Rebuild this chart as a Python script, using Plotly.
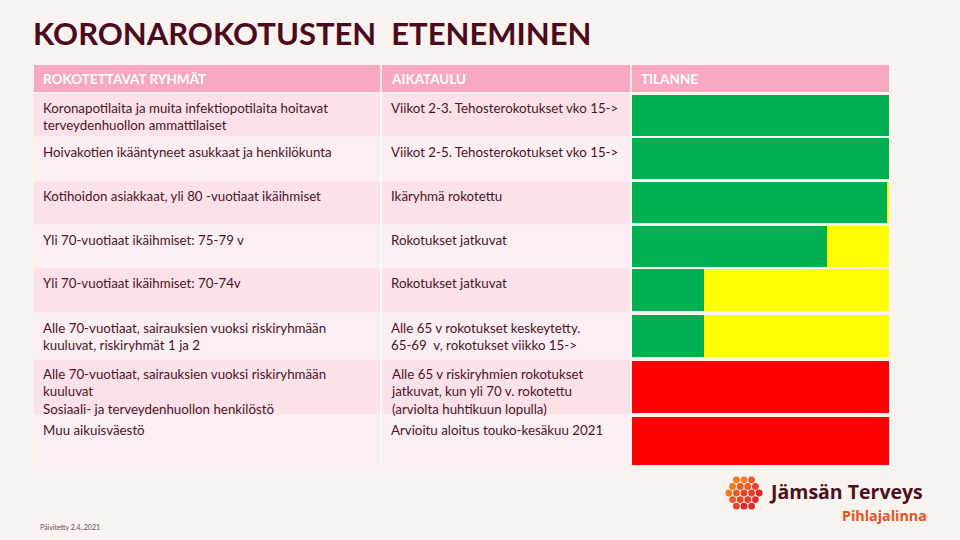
import plotly.graph_objects as go
import math

# ---------------- data ----------------
header = ["ROKOTETTAVAT RYHMÄT", "AIKATAULU", "TILANNE"]
groups = [
    "Koronapotilaita ja muita infektiopotilaita hoitavat<br>terveydenhuollon ammattilaiset",
    "Hoivakotien ikääntyneet asukkaat ja henkilökunta",
    "Kotihoidon asiakkaat, yli 80 -vuotiaat ikäihmiset",
    "Yli 70-vuotiaat ikäihmiset: 75-79 v",
    "Yli 70-vuotiaat ikäihmiset: 70-74v",
    "Alle 70-vuotiaat, sairauksien vuoksi riskiryhmään<br>kuuluvat, riskiryhmät 1 ja 2",
    "Alle 70-vuotiaat, sairauksien vuoksi riskiryhmään<br>kuuluvat<br>Sosiaali- ja terveydenhuollon henkilöstö",
    "Muu aikuisväestö",
]
schedule = [
    "Viikot 2-3. Tehosterokotukset vko 15->",
    "Viikot 2-5. Tehosterokotukset vko 15->",
    "Ikäryhmä rokotettu",
    "Rokotukset jatkuvat",
    "Rokotukset jatkuvat",
    "Alle 65 v rokotukset keskeytetty.<br>65-69  v, rokotukset viikko 15->",
    "Alle 65 v riskiryhmien rokotukset<br>jatkuvat, kun yli 70 v. rokotettu<br>(arviolta huhtikuun lopulla)",
    "Arvioitu aloitus touko-kesäkuu 2021",
]
done_pct = [100, 100, 99.5, 76, 28, 28, 0, 0]        # green
ongoing_pct = [0, 0, 0.5, 24, 72, 72, 0, 0]          # yellow
not_started_pct = [0, 0, 0, 0, 0, 0, 100, 100]       # red

title = "KORONAROKOTUSTEN  ETENEMINEN"
footer = "Päivitetty 2.4..2021"

# ---------------- layout constants (pixels) ----------------
W, H = 960, 540
BG = "#F8F3EE"
HEAD_PINK = "#F8A8C1"
ROW_DARK = "#FBE2E9"
ROW_LIGHT = "#FCEEF2"
TXT = "#4A1426"
GREEN, YELLOW, RED = "#00B050", "#FFFF00", "#FF0000"

TABLE_L, COL2_L, COL3_L, TABLE_R = 34, 382, 632, 889
HEAD_T, HEAD_B = 65, 92
row_bounds = [93, 137, 181, 225, 268, 313, 359, 415, 466]
bar_bounds = [(95, 136), (138, 179), (182, 223), (226, 267), (269, 311),
              (315, 357), (361, 413), (417, 465)]

def px(x):
    return x / W

fig = go.Figure()

centers = [(a + b) / 2 for a, b in bar_bounds]
widths = [(b - a) for a, b in bar_bounds]

for vals, col, name in [(done_pct, GREEN, "Valmis"),
                        (ongoing_pct, YELLOW, "Käynnissä"),
                        (not_started_pct, RED, "Ei aloitettu")]:
    fig.add_trace(go.Bar(
        x=vals, y=centers, width=widths, orientation="h",
        marker=dict(color=col, line=dict(width=0)),
        name=name, hoverinfo="x+name",
    ))

shapes = []
# header
shapes.append(dict(type="rect", xref="paper", yref="y", x0=px(TABLE_L), x1=px(TABLE_R),
                   y0=HEAD_T, y1=HEAD_B, fillcolor=HEAD_PINK, line=dict(width=0), layer="below"))
# body rows
for i in range(len(groups)):
    c = ROW_DARK if i % 2 == 0 else ROW_LIGHT
    shapes.append(dict(type="rect", xref="paper", yref="y", x0=px(TABLE_L), x1=px(COL3_L - 1),
                       y0=row_bounds[i] + 0.5, y1=row_bounds[i + 1] - 0.5,
                       fillcolor=c, line=dict(width=0), layer="below"))
# column separators
for xs in (COL2_L - 1, COL3_L - 1):
    shapes.append(dict(type="line", xref="paper", yref="y", x0=px(xs), x1=px(xs),
                       y0=HEAD_T, y1=row_bounds[-1], line=dict(color="#FFFFFF", width=1.5),
                       layer="below"))

# logo dots (decorative)
cx, cy, R = 744, 493, 19
logo_cols = ["#F7941D", "#F47920", "#EF5A24", "#E8412C", "#DC2A2A", "#CF1F2E"]
sp = 7.6
for j in range(-3, 4):
    for i in range(-3, 4):
        dx = i * sp + (j % 2) * sp / 2
        dy = j * sp * 0.866
        if math.hypot(dx, dy) <= R - 2:
            t = (dx + dy + 2 * R) / (4 * R)
            col = logo_cols[min(len(logo_cols) - 1, int(t * len(logo_cols)))]
            r = 3.4
            shapes.append(dict(type="circle", xref="paper", yref="y",
                               x0=px(cx + dx - r), x1=px(cx + dx + r),
                               y0=cy + dy - r, y1=cy + dy + r,
                               fillcolor=col, line=dict(width=0)))

annotations = []
FONT = "Lato, Open Sans, sans-serif"
annotations.append(dict(text="<b>" + title + "</b>", xref="paper", yref="y", x=px(31), y=33,
                        xanchor="left", yanchor="middle", showarrow=False,
                        font=dict(family="Lato, sans-serif", size=31, color="#4B0A1E")))
for xl, h in zip((TABLE_L + 7, COL2_L + 7, COL3_L + 7), header):
    annotations.append(dict(text="<b>" + h + "</b>", xref="paper", yref="y", x=px(xl), y=78.5,
                            xanchor="left", yanchor="middle", showarrow=False,
                            font=dict(family=FONT, size=13.5, color="#FFFFFF")))
for i in range(len(groups)):
    top = row_bounds[i] + 5
    for xl, t in ((TABLE_L + 7, groups[i]), (COL2_L + 7, schedule[i])):
        annotations.append(dict(text=t, xref="paper", yref="y", x=px(xl), y=top,
                                xanchor="left", yanchor="top", align="left", showarrow=False,
                                font=dict(family=FONT, size=13.3, color=TXT)))
annotations.append(dict(text="<b>Jämsän Terveys</b>", xref="paper", yref="y", x=px(767), y=491.5,
                        xanchor="left", yanchor="middle", showarrow=False,
                        font=dict(family="Open Sans, sans-serif", size=19.5, color="#4A1020")))
annotations.append(dict(text="<b>Pihlajalinna</b>", xref="paper", yref="y", x=px(929), y=515.5,
                        xanchor="right", yanchor="middle", showarrow=False,
                        font=dict(family="Open Sans, sans-serif", size=14.3, color="#E8531F")))
annotations.append(dict(text=footer, xref="paper", yref="y", x=px(38), y=527,
                        xanchor="left", yanchor="middle", showarrow=False,
                        font=dict(family=FONT, size=7, color="#6B4B55")))

fig.update_layout(
    width=W, height=H, margin=dict(l=0, r=0, t=0, b=0),
    paper_bgcolor=BG, plot_bgcolor="rgba(0,0,0,0)",
    barmode="stack", showlegend=False,
    xaxis=dict(domain=[px(COL3_L), px(TABLE_R)], range=[0, 100], visible=False, fixedrange=True),
    yaxis=dict(domain=[0, 1], range=[H, 0], visible=False, fixedrange=True),
    shapes=shapes, annotations=annotations,
)

fig.write_html("out.html", config={"displayModeBar": False},
               post_script="document.body.style.margin='0';document.body.style.background='%s';" % BG)
